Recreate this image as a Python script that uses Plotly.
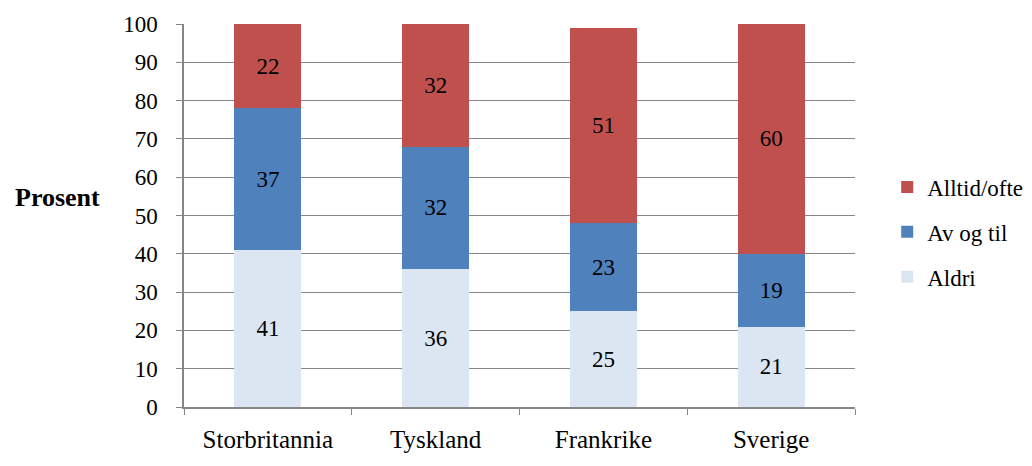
import plotly.graph_objects as go

countries = ["Storbritannia", "Tyskland", "Frankrike", "Sverige"]
aldri = [41, 36, 25, 21]
av_og_til = [37, 32, 23, 19]
alltid_ofte = [22, 32, 51, 60]
y_ticks = [0, 10, 20, 30, 40, 50, 60, 70, 80, 90, 100]

FONT = "'Liberation Serif', 'Times New Roman', serif"
FS = 23
series = [
    ("Aldri", aldri, "#DCE6F2", 3),
    ("Av og til", av_og_til, "#4F81BD", 2),
    ("Alltid/ofte", alltid_ofte, "#C0504D", 1),
]

fig = go.Figure()
for name, vals, col, rank in series:
    fig.add_trace(go.Bar(
        x=countries, y=vals, name=name, marker=dict(color=col, line=dict(width=0)),
        text=[str(v) for v in vals], textposition="inside", insidetextanchor="middle",
        textfont=dict(family=FONT, size=FS, color="black"), width=0.4,
        legendgroup=name, legendrank=rank,
    ))

fig.update_layout(
    barmode="stack",
    width=1024, height=458,
    margin=dict(l=176, r=177, t=16, b=59, autoexpand=False),
    plot_bgcolor="white", paper_bgcolor="white",
    font=dict(family=FONT, size=FS, color="black"),
    showlegend=True,
    legend=dict(x=1.048, y=0.457, xanchor="left", yanchor="middle",
                traceorder="grouped", tracegroupgap=12,
                font=dict(family=FONT, size=FS), itemwidth=30),
    xaxis=dict(showline=True, linecolor="#868686", linewidth=1.5,
               ticks="outside", tickson="boundaries", ticklen=6, tickcolor="#868686",
               ticklabelstandoff=9,
               tickfont=dict(family=FONT, size=25)),
    yaxis=dict(range=[0, 100], tickvals=y_ticks, showgrid=True, gridcolor="#868686",
               gridwidth=1, showline=True, linecolor="#868686", linewidth=1.5,
               ticks="outside", ticklen=6, tickcolor="#868686", zeroline=False,
               ticklabelstandoff=14,
               tickfont=dict(family=FONT, size=FS)),
    annotations=[dict(text="<b>Prosent</b>", x=-0.189, y=0.546, xref="paper", yref="paper",
                      xanchor="center", yanchor="middle", showarrow=False,
                      font=dict(family=FONT, size=26))],
)

fig.write_html("out.html")
